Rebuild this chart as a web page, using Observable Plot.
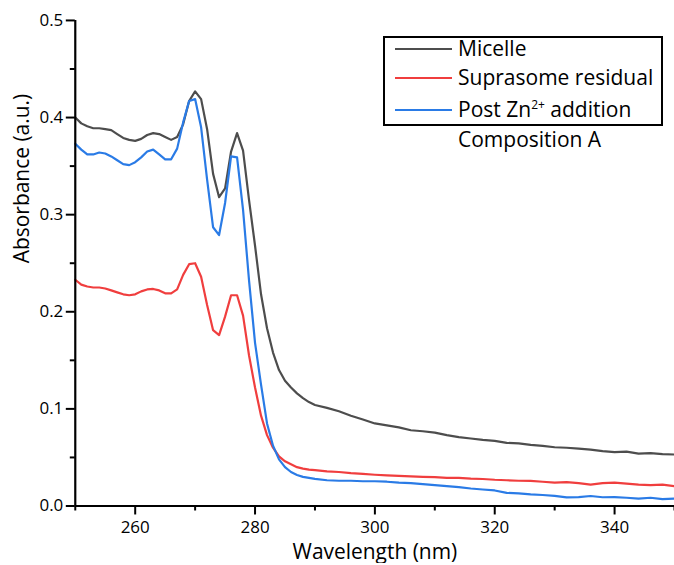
<!DOCTYPE html>
<html><head><meta charset="utf-8">
<script src="https://cdn.jsdelivr.net/npm/d3@7"></script>
<script src="https://cdn.jsdelivr.net/npm/@observablehq/plot@0.6"></script>
<style>
html,body{margin:0;padding:0;background:#fff;overflow:hidden;}
#wrap{position:relative;width:674px;height:565px;overflow:hidden;font-family:"Open Sans",sans-serif;}
#legend{position:absolute;left:383px;top:36px;width:276px;height:86px;border:2px solid #000;box-sizing:content-box;}
.li{position:absolute;left:0;font-size:21px;line-height:24px;color:#000;white-space:nowrap;}
.sw{position:absolute;left:10px;width:57px;height:2px;}
.lt{position:absolute;left:73px;}
sup{font-size:12px;vertical-align:0;position:relative;top:-8px;}
#comp{position:absolute;left:458px;top:127px;font-size:21px;line-height:24px;color:#000;}
svg [aria-label="x-axis tick"], svg [aria-label="y-axis tick"]{stroke:#000;stroke-width:2px;stroke-opacity:1;}
svg [aria-label="x-axis tick label"], svg [aria-label="y-axis tick label"]{fill:#000;font-size:17px;}
</style></head>
<body><div id="wrap"></div>
<script>
const seriesNames = ["Micelle", "Suprasome residual", "Post Zn2+ addition"];
const seriesColors = ["#4d4d4d", "#f03e3e", "#2a7be6"];

const wavelength = [250,251,252,253,254,255,256,257,258,259,260,261,262,263,264,265,266,267,268,269,270,
  271,272,273,274,275,276,277,278,279,280,281,282,283,284,285,286,287,288,289,290,
  292,294,296,298,300,302,304,306,308,310,312,314,316,318,320,322,324,326,328,330,
  332,334,336,338,340,342,344,346,348,350];

const micelle = [0.400,0.394,0.391,0.389,0.389,0.388,0.387,0.383,0.379,0.377,0.376,
  0.378,0.382,0.384,0.383,0.380,0.377,0.380,0.393,0.417,0.427,
  0.419,0.388,0.342,0.318,0.327,0.365,0.384,0.366,0.315,0.268,
  0.218,0.183,0.158,0.140,0.129,0.122,0.116,0.111,0.107,0.104,
  0.101,0.0975,0.093,0.089,0.085,0.083,0.081,0.078,0.077,0.0755,
  0.073,0.071,0.0695,0.068,0.067,0.065,0.0645,0.063,0.062,0.0605,
  0.060,0.059,0.058,0.0565,0.0555,0.056,0.054,0.0545,0.0535,0.053];

const suprasome = [0.233,0.228,0.226,0.225,0.225,0.224,0.222,0.220,0.218,0.217,0.218,
  0.221,0.223,0.2235,0.222,0.219,0.219,0.223,0.238,0.249,0.250,
  0.236,0.207,0.181,0.176,0.195,0.217,0.217,0.196,0.155,0.122,
  0.093,0.073,0.060,0.051,0.046,0.043,0.040,0.0385,0.0375,0.037,
  0.0357,0.035,0.0338,0.033,0.0322,0.0315,0.031,0.0305,0.030,0.0297,
  0.029,0.029,0.0282,0.0278,0.027,0.0265,0.026,0.0258,0.025,0.024,
  0.0245,0.0235,0.022,0.0235,0.024,0.023,0.022,0.0215,0.022,0.0205];

const postZn = [0.373,0.367,0.362,0.362,0.364,0.363,0.360,0.356,0.352,0.351,0.354,
  0.359,0.365,0.367,0.362,0.357,0.357,0.368,0.395,0.417,0.419,
  0.390,0.336,0.287,0.279,0.312,0.360,0.359,0.305,0.232,0.168,
  0.125,0.085,0.062,0.048,0.040,0.035,0.032,0.030,0.029,0.028,
  0.0265,0.026,0.026,0.0255,0.0255,0.025,0.024,0.0235,0.0225,0.0215,
  0.0205,0.0195,0.018,0.017,0.016,0.0135,0.013,0.012,0.0113,0.0105,
  0.0088,0.0092,0.0103,0.009,0.0092,0.0085,0.0075,0.0085,0.007,0.0076];

const xMajorTicks = [260, 280, 300, 320, 340];
const xMinorTicks = [250, 270, 290, 310, 330, 350];
const yMajorTicks = [0, 0.1, 0.2, 0.3, 0.4, 0.5];
const yMinorTicks = [0.05, 0.15, 0.25, 0.35, 0.45];
const xTitle = "Wavelength (nm)";
const yTitle = "Absorbance (a.u.)";

const allSeries = [micelle, suprasome, postZn];
const rows = [];
allSeries.forEach((vals, i) => vals.forEach((v, j) => rows.push({w: wavelength[j], v, series: seriesNames[i]})));

const chart = Plot.plot({
  width: 676, height: 565,
  marginLeft: 75, marginRight: 0, marginTop: 20, marginBottom: 58,
  style: {fontFamily: "Open Sans, sans-serif", fontSize: "17px", color: "#000", background: "#fff"},
  x: {domain: [250, 350]},
  y: {domain: [0, 0.5]},
  color: {domain: seriesNames, range: seriesColors},
  marks: [
    Plot.line(rows, {x: "w", y: "v", z: "series", stroke: "series", strokeWidth: 2.2}),
    Plot.axisX(xMajorTicks, {tickSize: 9, tickPadding: 6, stroke: "#000", strokeWidth: 2, label: null, tickFormat: d => String(d), fontSize: 17, fill: "#000"}),
    Plot.axisX(xMinorTicks, {tickSize: 5, stroke: "#000", strokeWidth: 2, label: null, tickFormat: () => ""}),
    Plot.axisY(yMajorTicks, {tickSize: 9, tickPadding: 3, stroke: "#000", strokeWidth: 2, label: null, tickFormat: d3.format(".1f"), fontSize: 17, fill: "#000"}),
    Plot.axisY(yMinorTicks, {tickSize: 5, stroke: "#000", strokeWidth: 2, label: null, tickFormat: () => ""}),
    Plot.ruleY([0], {stroke: "#000", strokeWidth: 2.2}),
    Plot.ruleX([250], {stroke: "#000", strokeWidth: 2.2}),
    Plot.text([xTitle], {text: d => d, frameAnchor: "bottom", dy: 46, fontSize: 21, lineAnchor: "middle", fill: "#000"}),
    Plot.text([yTitle], {text: d => d, frameAnchor: "left", dx: -53, rotate: -90, fontSize: 21, lineAnchor: "middle", fill: "#000"})
  ]
});

const wrap = document.getElementById("wrap");
wrap.appendChild(chart);

const legend = document.createElement("div");
legend.id = "legend";
const rowY = [11, 40, 72];
const labels = ["Micelle", "Suprasome residual", "Post Zn<sup>2+</sup> addition"];
labels.forEach((lab, i) => {
  const sw = document.createElement("div");
  sw.className = "sw";
  sw.style.top = (rowY[i] - 1) + "px";
  sw.style.background = seriesColors[i];
  legend.appendChild(sw);
  const t = document.createElement("div");
  t.className = "li lt";
  t.style.top = (rowY[i] - 13) + "px";
  t.innerHTML = lab;
  legend.appendChild(t);
});
wrap.appendChild(legend);
const comp = document.createElement("div");
comp.id = "comp";
comp.textContent = "Composition A";
wrap.appendChild(comp);
</script>
</body></html>
